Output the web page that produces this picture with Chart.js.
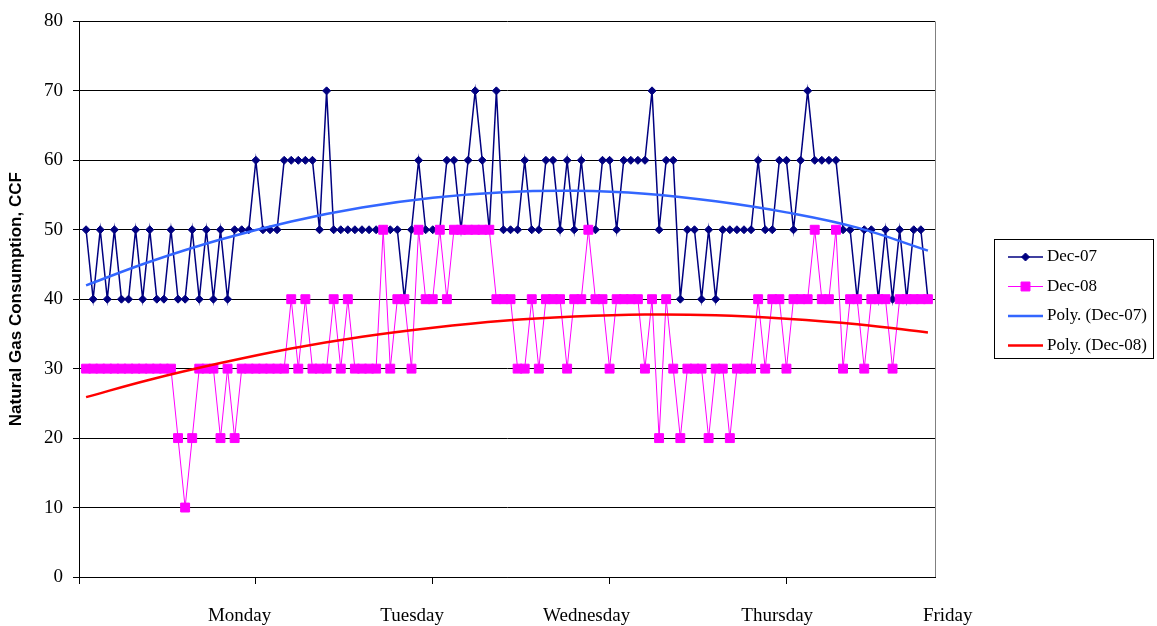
<!DOCTYPE html>
<html><head><meta charset="utf-8">
<script src="https://cdn.jsdelivr.net/npm/chart.js@4/dist/chart.umd.min.js"></script>
<style>html,body{margin:0;padding:0;background:#fff;}canvas{display:block;}</style>
</head><body>
<canvas id="c" width="1157" height="626" style="width:1157px;height:626px"></canvas>
<script>
// Hourly readings (index 1..120 along the week)
const dec07 = [
  50,40,50,40,50,40,40,50,40,50,
  40,40,50,40,40,50,40,50,40,50,
  40,50,50,50,60,50,50,50,60,60,
  60,60,60,50,70,50,50,50,50,50,
  50,50,50,50,50,40,50,60,50,50,
  50,60,60,50,60,70,60,50,70,50,
  50,50,60,50,50,60,60,50,60,50,
  60,50,50,60,60,50,60,60,60,60,
  70,50,60,60,40,50,50,40,50,40,
  50,50,50,50,50,60,50,50,60,60,
  50,60,70,60,60,60,60,50,50,40,
  50,50,40,50,40,50,40,50,50,40
];
const dec08 = [
  30,30,30,30,30,30,30,30,30,30,
  30,30,30,20,10,20,30,30,30,20,
  30,20,30,30,30,30,30,30,30,40,
  30,40,30,30,30,40,30,40,30,30,
  30,30,50,30,40,40,30,50,40,40,
  50,40,50,50,50,50,50,50,40,40,
  40,30,30,40,30,40,40,40,30,40,
  40,50,40,40,30,40,40,40,40,30,
  40,20,40,30,20,30,30,30,20,30,
  30,20,30,30,30,40,30,40,40,30,
  40,40,40,50,40,40,50,30,40,40,
  30,40,40,40,30,40,40,40,40,40
];
// Trendline values at sample hours
const trendHours = [1,10,20,30,40,50,60,70,80,90,100,110,120];
const polyDec07 = [42.0,45.4,48.6,51.2,53.2,54.6,55.4,55.6,55.2,54.1,52.5,50.3,47.0];
const polyDec08 = [25.9,28.4,30.8,32.9,34.6,35.9,36.9,37.5,37.8,37.7,37.2,36.4,35.2];
const dayLabels = ['Monday','Tuesday','Wednesday','Thursday','Friday'];
const seriesNames = ['Dec-07','Dec-08','Poly. (Dec-07)','Poly. (Dec-08)'];
const yTitle = 'Natural Gas Consumption, CCF';

const hours = dec07.map((_, i) => i + 1);
const pts = (xs, ys) => xs.map((x, i) => ({x: x, y: ys[i]}));

Chart.defaults.font.family = '"Liberation Serif", "Times New Roman", serif';
Chart.defaults.color = '#000';

const dayTickPos = [0, 25, 50, 75, 100];
const dayLabelPos = [22.7, 47.1, 71.75, 98.7, 122.8];

const frame = {
  id: 'frame',
  beforeDatasetsDraw(chart) {
    const a = chart.chartArea, ctx = chart.ctx;
    ctx.save();
    ctx.strokeStyle = '#808080';
    ctx.lineWidth = 1;
    ctx.beginPath();
    ctx.moveTo(Math.round(a.right) + 0.5, a.top);
    ctx.lineTo(Math.round(a.right) + 0.5, a.bottom);
    ctx.stroke();
    ctx.restore();
  }
};

const boxLegend = {
  id: 'boxLegend',
  afterDraw(chart) {
    const ctx = chart.ctx;
    ctx.save();
    ctx.strokeStyle = '#000';
    ctx.lineWidth = 1;
    ctx.strokeRect(994.5, 239.5, 159, 119);
    const ys = [257, 286.5, 316, 345.5];
    chart.data.datasets.forEach((ds, i) => {
      const y = ys[i];
      ctx.strokeStyle = ds.borderColor;
      ctx.lineWidth = ds.borderWidth;
      ctx.beginPath();
      ctx.moveTo(1008, y);
      ctx.lineTo(1043, y);
      ctx.stroke();
      if (ds.pointRadius > 0) {
        ctx.fillStyle = ds.pointBackgroundColor;
        ctx.strokeStyle = ds.pointBorderColor;
        ctx.lineWidth = ds.pointBorderWidth;
        Chart.helpers.drawPoint(ctx, {pointStyle: ds.pointStyle, radius: ds.pointRadius, borderWidth: ds.pointBorderWidth, rotation: 0}, 1025.5, y);
      }
      ctx.fillStyle = '#000';
      ctx.font = '17px "Liberation Serif"';
      ctx.textBaseline = 'middle';
      ctx.textAlign = 'left';
      ctx.fillText(ds.label, 1047, y);
    });
    ctx.restore();
  }
};

new Chart(document.getElementById('c'), {
  type: 'line',
  data: {
    datasets: [
      {
        label: seriesNames[0], data: pts(hours, dec07),
        borderColor: '#000080', backgroundColor: '#000080', borderWidth: 1.5,
        pointStyle: 'rectRot', pointRadius: 4, pointBorderWidth: 1,
        pointBackgroundColor: '#000080', pointBorderColor: '#000080',
        tension: 0, order: 3
      },
      {
        label: seriesNames[1], data: pts(hours, dec08),
        borderColor: '#FF00FF', backgroundColor: '#FF00FF', borderWidth: 1,
        pointStyle: 'rect', pointRadius: 6.3, pointBorderWidth: 1,
        pointBackgroundColor: '#FF00FF', pointBorderColor: '#FF00FF',
        tension: 0, order: 2
      },
      {
        label: seriesNames[2], data: pts(trendHours, polyDec07),
        borderColor: '#3366FF', backgroundColor: '#3366FF', borderWidth: 2.5,
        pointRadius: 0, tension: 0.4, order: 1
      },
      {
        label: seriesNames[3], data: pts(trendHours, polyDec08),
        borderColor: '#FF0000', backgroundColor: '#FF0000', borderWidth: 2.5,
        pointRadius: 0, tension: 0.4, order: 0
      }
    ]
  },
  options: {
    responsive: false,
    animation: false,
    devicePixelRatio: 1,
    layout: {padding: {left: 0, right: 222, top: 17, bottom: 0}},
    plugins: {legend: {display: false}, tooltip: {enabled: false}},
    scales: {
      x: {
        type: 'linear', min: 0, max: 121, position: 'bottom',
        afterBuildTicks: s => { s.ticks = dayTickPos.map(v => ({value: v})); },
        afterFit: s => { s.height = 7; },
        ticks: {display: false},
        grid: {drawOnChartArea: false, drawTicks: true, tickLength: 7, color: '#000', lineWidth: 1},
        border: {display: true, color: '#000', width: 1}
      },
      xDays: {
        type: 'linear', min: 0, max: 121, position: 'bottom',
        afterBuildTicks: s => { s.ticks = dayLabelPos.map(v => ({value: v})); },
        afterFit: s => { s.height = 42; },
        ticks: {
          autoSkip: false, maxRotation: 0, minRotation: 0, padding: 21,
          font: {size: 19}, color: '#000',
          callback: (v, i) => dayLabels[i]
        },
        grid: {display: false, drawTicks: false},
        border: {display: false}
      },
      y: {
        min: 0, max: 80,
        ticks: {stepSize: 10, padding: 10, font: {size: 19}, color: '#000'},
        afterFit: s => { s.width = 79; },
        grid: {color: '#000', lineWidth: 1, drawTicks: true, tickLength: 6},
        border: {display: true, color: '#000', width: 1},
        title: {
          display: true, text: yTitle, color: '#000',
          font: {family: '"Liberation Sans", Arial, sans-serif', size: 17, weight: 'bold'},
          padding: {top: 6, bottom: 0}
        }
      }
    }
  },
  plugins: [frame, boxLegend]
});
</script>
</body></html>
